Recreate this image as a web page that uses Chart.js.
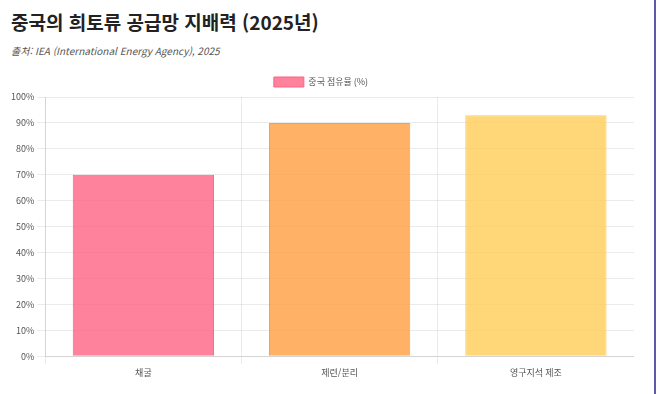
<!DOCTYPE html>
<html lang="ko">
<head>
<meta charset="utf-8">
<script src="https://cdn.jsdelivr.net/npm/chart.js@4"></script>
<style>
  html, body { margin: 0; padding: 0; background: #fff; }
  body { width: 658px; height: 394px; position: relative; overflow: hidden;
         font-family: "Noto Sans CJK KR", "Noto Sans", sans-serif; }
  .frame { position: absolute; left: 0; top: 0; width: 654px; height: 394px;
           border-right: 2px solid #5a5aa8; }
  h2 { position: absolute; left: 11px; top: 8px; margin: 0; font-size: 19px;
       font-weight: 700; color: #222; }
  .source { position: absolute; left: 11px; top: 43px; margin: 0; font-size: 10px;
            font-style: italic; color: #555; }
  .chart-container { position: absolute; left: 8px; top: 67px; width: 626px; height: 314px; }
</style>
</head>
<body>
<div class="frame"></div>
<h2>중국의 희토류 공급망 지배력 (2025년)</h2>
<p class="source">출처: IEA (International Energy Agency), 2025</p>
<div class="chart-container"><canvas id="chart"></canvas></div>
<script>
const categories = ["채굴", "제련/분리", "영구지석 제조"];
const shareValues = [70, 90, 93];
const seriesLabel = "중국 점유율 (%)";

const fillColors = [
  "rgba(255, 99, 132, 0.8)",
  "rgba(255, 159, 64, 0.8)",
  "rgba(255, 205, 86, 0.8)",
];
const borderColors = [
  "rgb(255, 99, 132)",
  "rgb(255, 159, 64)",
  "rgb(255, 205, 86)",
];

const fontFamily = '"Noto Sans CJK KR", "Noto Sans", sans-serif';

new Chart(document.getElementById("chart"), {
  type: "bar",
  data: {
    labels: categories,
    datasets: [
      {
        label: seriesLabel,
        data: shareValues,
        backgroundColor: fillColors,
        borderColor: borderColors,
        borderWidth: 1,
      },
    ],
  },
  options: {
    responsive: true,
    maintainAspectRatio: false,
    animation: false,
    plugins: {
      legend: {
        labels: {
          boxWidth: 30,
          boxHeight: 10,
          color: "#555",
          font: { size: 9, family: fontFamily },
        },
      },
      tooltip: { enabled: false },
    },
    scales: {
      x: {
        grid: { color: "rgba(0, 0, 0, 0.08)" },
        ticks: { color: "#555", font: { size: 9, family: fontFamily } },
      },
      y: {
        min: 0,
        max: 100,
        grid: { color: "rgba(0, 0, 0, 0.08)" },
        ticks: {
          stepSize: 10,
          color: "#555",
          font: { size: 9, family: fontFamily },
          callback: (v) => v + "%",
        },
      },
    },
  },
});
</script>
</body>
</html>
